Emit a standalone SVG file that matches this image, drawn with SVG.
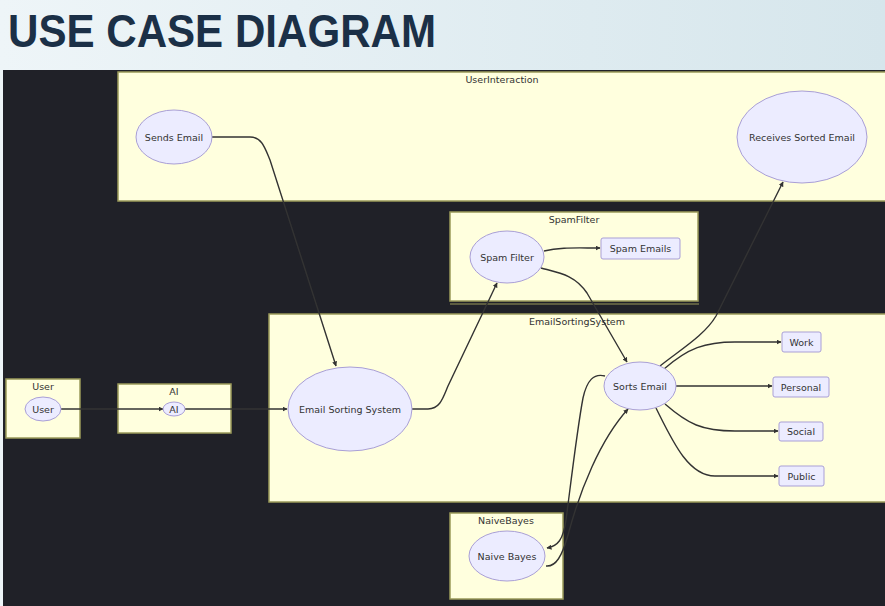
<svg xmlns="http://www.w3.org/2000/svg" width="885" height="606" viewBox="0 0 885 606">
<defs>
<linearGradient id="bg" x1="0" y1="0" x2="1" y2="0">
<stop offset="0" stop-color="#eef5f8"/>
<stop offset="1" stop-color="#d6e6ec"/>
</linearGradient>
<marker id="arr" viewBox="0 0 10 10" refX="9" refY="5" markerWidth="5" markerHeight="5" orient="auto" markerUnits="userSpaceOnUse">
<path d="M0,0 L10,5 L0,10 z" fill="#333"/>
</marker>
</defs>
<style>
.cl{fill:#ffffde;stroke:#9a9a5a;stroke-width:1.5}
.cll{font-family:"DejaVu Sans",Verdana,sans-serif;font-size:9.5px;fill:#333;text-anchor:middle}
.nd{fill:#ececff;stroke:#a99fd6;stroke-width:1}
.nt{font-family:"DejaVu Sans",Verdana,sans-serif;font-size:9.5px;fill:#333;text-anchor:middle;dominant-baseline:central}
.ed{fill:none;stroke:#333;stroke-width:1.4;marker-end:url(#arr)}
</style>
<rect x="0" y="0" width="885" height="606" fill="url(#bg)"/>
<text x="8" y="47" font-family="'Liberation Sans',Arial,sans-serif" font-weight="bold" font-size="47" fill="#1b3047" textLength="428" lengthAdjust="spacingAndGlyphs">USE CASE DIAGRAM</text>
<rect x="3" y="70" width="882" height="536" fill="#202128"/>

<g id="cluster-UserInteraction">
<rect class="cl" x="118" y="72" width="770" height="129"/>
<text class="cll" x="502" y="83">UserInteraction</text>
</g>
<g id="cluster-SpamFilter">
<rect class="cl" x="450" y="212" width="248" height="89"/>
<line x1="450" y1="304" x2="699" y2="304" stroke="#9a9a5a" stroke-width="1.2"/>
<text class="cll" x="574" y="223">SpamFilter</text>
</g>
<g id="cluster-EmailSortingSystem">
<rect class="cl" x="269" y="314" width="619" height="188"/>
<text class="cll" x="577" y="325">EmailSortingSystem</text>
</g>
<g id="cluster-User">
<rect class="cl" x="6" y="379" width="74" height="59"/>
<text class="cll" x="43" y="390">User</text>
</g>
<g id="cluster-AI">
<rect class="cl" x="118" y="384" width="113" height="49"/>
<text class="cll" x="174" y="395">AI</text>
</g>
<g id="cluster-NaiveBayes">
<rect class="cl" x="450" y="513" width="113" height="86"/>
<text class="cll" x="506" y="524">NaiveBayes</text>
</g>

<g id="connectors">
<path class="ed" d="M212,137 L250,137 C262,137 265,148 270,160 L336,366"/>
<path class="ed" d="M61,409 L163,409"/>
<path class="ed" d="M185,409 L287,409"/>
<path class="ed" d="M412,409 L428,409 C440,409 443,398 448,386 L497,283"/>
<path class="ed" d="M544,251 C560,247 575,248 600,248"/>
<path class="ed" d="M541,268 C560,273 575,275 587,293 L627,362"/>
<path class="ed" d="M660,366 C680,350 705,335 716,316 L783,182"/>
<path class="ed" d="M664,369 C688,348 705,342 735,342 L781,342"/>
<path class="ed" d="M676,386 L772,386"/>
<path class="ed" d="M665,404 C688,424 702,431 735,431 L778,431"/>
<path class="ed" d="M656,408 C672,440 688,476 715,476 L778,476"/>
<path class="ed" d="M605,376 C594,373 587,380 583,398 C577,430 570,490 566,520 C563,540 558,546 547,548"/>
<path class="ed" d="M546,566 C556,567 562,556 568,535 C580,490 600,440 628,409"/>
</g>

<g id="node-SendsEmail">
<ellipse class="nd" cx="174" cy="137" rx="38" ry="27"/>
<text class="nt" x="174" y="137">Sends Email</text>
</g>
<g id="node-ReceivesSortedEmail">
<ellipse class="nd" cx="802" cy="137" rx="65" ry="46"/>
<text class="nt" x="802" y="137">Receives Sorted Email</text>
</g>
<g id="node-SpamFilter">
<ellipse class="nd" cx="507" cy="257" rx="37" ry="26"/>
<text class="nt" x="507" y="257">Spam Filter</text>
</g>
<g id="node-SpamEmails">
<rect class="nd" x="601" y="238" width="79" height="21" rx="2"/>
<text class="nt" x="640.5" y="248.5">Spam Emails</text>
</g>
<g id="node-User">
<ellipse class="nd" cx="43" cy="409" rx="18" ry="12"/>
<text class="nt" x="43" y="409">User</text>
</g>
<g id="node-AI">
<ellipse class="nd" cx="174" cy="409" rx="11" ry="7"/>
<text class="nt" x="174" y="409">AI</text>
</g>
<g id="node-EmailSortingSystem">
<ellipse class="nd" cx="350" cy="409" rx="62" ry="42"/>
<text class="nt" x="350" y="409">Email Sorting System</text>
</g>
<g id="node-SortsEmail">
<ellipse class="nd" cx="640" cy="386" rx="36" ry="24"/>
<text class="nt" x="640" y="386">Sorts Email</text>
</g>
<g id="node-Work">
<rect class="nd" x="782" y="332" width="39" height="20" rx="2"/>
<text class="nt" x="801.5" y="342">Work</text>
</g>
<g id="node-Personal">
<rect class="nd" x="773" y="377" width="56" height="20" rx="2"/>
<text class="nt" x="801" y="387">Personal</text>
</g>
<g id="node-Social">
<rect class="nd" x="779" y="422" width="44" height="19" rx="2"/>
<text class="nt" x="801" y="431.5">Social</text>
</g>
<g id="node-Public">
<rect class="nd" x="779" y="466" width="45" height="20" rx="2"/>
<text class="nt" x="801.5" y="476">Public</text>
</g>
<g id="node-NaiveBayes">
<ellipse class="nd" cx="507" cy="556" rx="38" ry="25"/>
<text class="nt" x="507" y="556">Naive Bayes</text>
</g>
</svg>
